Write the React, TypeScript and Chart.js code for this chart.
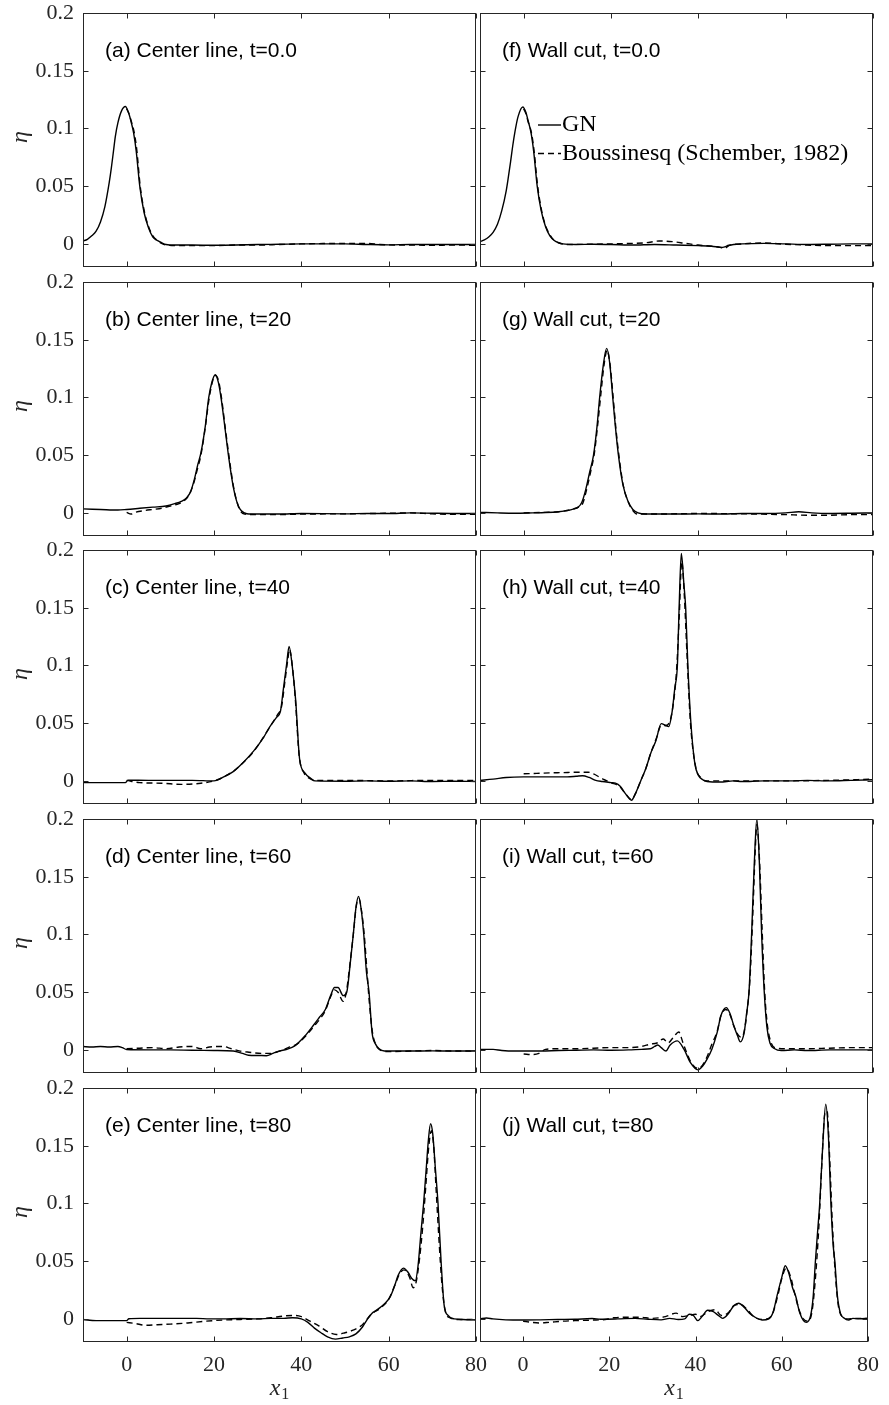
import React, { useEffect, useRef } from 'react';
import { Chart, registerables } from 'chart.js';
Chart.register(...registerables);

type Pt = [number, number];

const X_MIN = -10;
const X_MAX = 80;
const Y_MIN = -0.02;
const Y_MAX = 0.2;
const X_TICKS = [0, 20, 40, 60, 80];
const X_TICK_LABELS = ['0', '20', '40', '60', '80'];
const Y_TICKS = [0, 0.05, 0.1, 0.15, 0.2];
const Y_TICK_LABELS = ['0', '0.05', '0.1', '0.15', '0.2'];
const SERIES_NAMES = ['GN', 'Boussinesq (Schember, 1982)'];
const Y_LABEL = 'η';
const X_LABEL = 'x';
const X_LABEL_SUB = '1';

const PANEL_TITLES = [
  '(a) Center line, t=0.0',
  '(b) Center line, t=20',
  '(c) Center line, t=40',
  '(d) Center line, t=60',
  '(e) Center line, t=80',
  '(f) Wall cut, t=0.0',
  '(g) Wall cut, t=20',
  '(h) Wall cut, t=40',
  '(i) Wall cut, t=60',
  '(j) Wall cut, t=80',
];

// ---- (a) Center line, t=0.0
const a_GN: Pt[] = [[-10,0.0025],[-9,0.004],[-8,0.007],[-7,0.011],[-6,0.019],[-5,0.032],[-4,0.053],[-3.5,0.066],[-3,0.081],[-2.6,0.093],[-2,0.105],[-1.2,0.115],[-0.3,0.119],[0.4,0.114],[1,0.106],[1.6,0.096],[2.2,0.08],[3,0.05],[4,0.027],[5,0.014],[6,0.006],[7,0.003],[8,0.001],[9,-0.0005],[11,-0.001],[15,-0.001],[20,-0.0012],[25,-0.001],[30,-0.0005],[35,-0.0003],[40,0],[45,0],[50,0],[55,-0.0005],[60,-0.0008],[65,-0.0005],[70,-0.0005],[75,-0.0005],[80,-0.0005]];
const a_BQ: Pt[] = [[0,0.117],[0.5,0.113],[1,0.107],[1.7,0.097],[2.3,0.082],[3.1,0.05],[4,0.029],[5,0.015],[6,0.007],[7,0.003],[8,0.0005],[9,-0.001],[12,-0.0015],[16,-0.0015],[20,-0.0015],[25,-0.001],[30,-0.001],[35,-0.0005],[40,0],[45,0.0003],[50,0.0003],[55,0.0005],[58,-0.0005],[62,-0.001],[66,-0.001],[70,-0.0012],[75,-0.001],[80,-0.0012]];

// ---- (b) Center line, t=20
const b_GN: Pt[] = [[-10,0.0035],[-6,0.003],[-2,0.0025],[0,0.003],[3,0.004],[6,0.005],[9,0.006],[11,0.008],[12.5,0.01],[13.7,0.013],[14.6,0.018],[15.5,0.029],[16.3,0.042],[17,0.052],[18,0.075],[18.8,0.1],[19.5,0.113],[20.3,0.1197],[21,0.113],[21.6,0.1],[22.5,0.074],[23.3,0.05],[24.3,0.025],[25.2,0.01],[26,0.003],[27,0],[28,-0.001],[35,-0.001],[40,-0.0005],[50,-0.0008],[55,-0.0005],[60,-0.0005],[65,0],[70,-0.0003],[75,-0.0005],[80,-0.0005]];
const b_BQ: Pt[] = [[0,0.0005],[1,-0.001],[2,0.0005],[4,0.002],[6,0.003],[8,0.004],[10,0.006],[12,0.008],[13,0.01],[14.2,0.015],[15.3,0.025],[16.2,0.038],[17,0.05],[18,0.074],[18.8,0.097],[19.6,0.113],[20.3,0.119],[21,0.115],[21.7,0.1],[22.6,0.073],[23.4,0.05],[24.4,0.024],[25.3,0.009],[26,0.002],[27,-0.001],[30,-0.0015],[35,-0.0015],[40,-0.001],[50,-0.0008],[60,-0.0003],[65,0],[70,-0.0008],[75,-0.0012],[80,-0.0012]];

// ---- (c) Center line, t=40
const c_GN: Pt[] = [[-10,-0.0015],[-5,-0.0015],[-0.3,-0.0015],[0.3,0.0006],[5,0.0005],[10,0.0005],[15,0.0005],[20,0],[22,0.003],[24.4,0.008],[26.7,0.016],[29.1,0.026],[31.4,0.038],[32.8,0.047],[34.3,0.055],[35.2,0.06],[35.9,0.08],[36.6,0.1],[37.2,0.1165],[37.9,0.1],[38.7,0.07],[39.6,0.019],[40.8,0.007],[42.2,0.002],[43.1,0],[50,-0.0003],[55,0],[60,-0.0003],[65,0],[70,-0.0005],[75,-0.0003],[80,-0.0005]];
const c_BQ: Pt[] = [[0,0.0005],[3,-0.0015],[8,-0.002],[12.5,-0.003],[17,-0.002],[20,0],[22,0.003],[25,0.01],[27,0.017],[29,0.025],[31,0.036],[33,0.048],[34.5,0.057],[35.5,0.065],[36.2,0.085],[36.9,0.105],[37.3,0.114],[37.8,0.104],[38.6,0.072],[39.5,0.022],[40.6,0.007],[42,0.002],[43,0.0005],[50,0.0005],[60,0],[70,0.0005],[80,0.0005]];

// ---- (d) Center line, t=60
const d_GN: Pt[] = [[-10,0.003],[-8,0.0025],[-6,0.003],[-4,0.0025],[-2,0.003],[-1,0.002],[0,0.0003],[5,0],[10,0],[15,-0.0003],[20,-0.0005],[24.4,-0.001],[26.5,-0.003],[27.9,-0.0046],[30,-0.0048],[32,-0.005],[33.5,-0.003],[34.9,-0.001],[36.7,0.0006],[38.5,0.0035],[40.8,0.012],[42.9,0.022],[44.3,0.029],[45.5,0.035],[46.7,0.047],[47.6,0.054],[48.4,0.054],[49.6,0.047],[50.4,0.05],[51.2,0.075],[51.9,0.1],[52.5,0.123],[53.1,0.133],[53.7,0.122],[54.3,0.1],[54.9,0.068],[55.5,0.05],[56.2,0.015],[57,0.005],[57.8,0.001],[59,-0.001],[62,-0.001],[65,-0.001],[70,-0.0008],[75,-0.001],[80,-0.001]];
const d_BQ: Pt[] = [[0,0.001],[3,0.0015],[6,0.002],[9,0.001],[12,0.0025],[15,0.003],[17,0.001],[19,0.0025],[22,0.003],[24,0.001],[26,-0.001],[28,-0.002],[31,-0.003],[33,-0.003],[35,-0.001],[37,0.002],[39,0.005],[41,0.012],[43,0.021],[44.5,0.028],[45.5,0.034],[46.7,0.046],[47.6,0.052],[48.4,0.05],[49.6,0.042],[50.3,0.05],[51,0.07],[51.9,0.1],[52.6,0.125],[53.2,0.131],[53.8,0.12],[54.4,0.1],[55,0.07],[55.6,0.04],[56.3,0.015],[57,0.005],[58,0],[60,-0.0015],[65,-0.001],[70,-0.0005],[75,-0.001],[80,-0.001]];

// ---- (e) Center line, t=80
const e_GN: Pt[] = [[-10,-0.0005],[-7,-0.0015],[-3,-0.0015],[0,-0.0015],[0.5,0.0002],[3,0.0005],[8,0.0005],[12,0.0005],[16,0.0005],[19,0],[22,0],[26,0.0003],[30,0],[33,0.0005],[36,0.0005],[38,0.001],[40,0],[41.5,-0.003],[43,-0.008],[44.5,-0.012],[46,-0.0155],[47.8,-0.0175],[49.5,-0.0165],[51,-0.0155],[52.5,-0.013],[54,-0.007],[55,-0.001],[56.2,0.005],[57,0.007],[58.1,0.01],[59.3,0.014],[60.4,0.0195],[61.3,0.028],[62.2,0.038],[63.4,0.044],[64.5,0.04],[65.3,0.035],[66.1,0.033],[66.7,0.045],[67.4,0.075],[68,0.1],[68.6,0.13],[69.1,0.155],[69.6,0.169],[70.1,0.16],[70.7,0.13],[71.3,0.1],[72,0.05],[72.7,0.012],[73.6,0.003],[75,0],[77,-0.0005],[80,-0.001]];
const e_BQ: Pt[] = [[0,-0.003],[2,-0.004],[4.3,-0.0055],[7,-0.005],[10,-0.0045],[14,-0.0035],[18,-0.002],[22,-0.001],[26,-0.0005],[30,0],[33,0.001],[36,0.0025],[38,0.003],[40,0.002],[42,-0.002],[44,-0.006],[46,-0.011],[48,-0.0135],[50,-0.012],[52,-0.0095],[54,-0.005],[56,0.004],[58,0.009],[60,0.017],[61.5,0.03],[62.5,0.039],[63.5,0.0425],[64.8,0.036],[65.6,0.027],[66.3,0.032],[67,0.05],[67.8,0.08],[68.5,0.115],[69.2,0.15],[69.8,0.163],[70.3,0.15],[70.9,0.11],[71.5,0.07],[72.2,0.03],[72.9,0.008],[74,0.001],[76,-0.0005],[80,-0.0005]];

// ---- (f) Wall cut, t=0.0
const f_GN: Pt[] = [[-10,0.002],[-9,0.0035],[-8,0.006],[-7,0.01],[-6,0.017],[-5,0.029],[-4,0.046],[-3.5,0.058],[-3,0.071],[-2.5,0.085],[-2,0.097],[-1.3,0.11],[-0.2,0.1186],[0.5,0.114],[1,0.107],[1.7,0.096],[2.3,0.08],[3.1,0.05],[4,0.029],[5,0.015],[6,0.007],[7,0.003],[8,0.001],[9,0],[12,-0.0005],[16,-0.0003],[20,-0.0005],[25,-0.001],[30,-0.0005],[35,-0.001],[40,-0.0015],[43,-0.002],[45.5,-0.003],[47,-0.0012],[50,0],[55,0.0005],[60,0],[65,-0.0005],[70,-0.0003],[75,0],[80,0]];
const f_BQ: Pt[] = [[0,0.117],[0.5,0.113],[1,0.106],[1.8,0.096],[2.4,0.08],[3.2,0.05],[4.1,0.029],[5,0.016],[6,0.008],[7,0.003],[8,0.001],[10,-0.0005],[15,-0.0003],[20,0],[25,0.0005],[28,0.001],[31,0.0025],[34,0.002],[37,0.0005],[40,-0.001],[43,-0.002],[45,-0.003],[46,-0.004],[47,-0.0015],[50,0],[55,0.0008],[60,-0.0003],[65,-0.001],[70,-0.0015],[75,-0.0015],[80,-0.0015]];

// ---- (g) Wall cut, t=20
const g_GN: Pt[] = [[-10,0.0005],[-6,0],[-2,-0.0003],[2,0],[5,0.0003],[8,0.001],[10,0.002],[11.5,0.0035],[12.5,0.005],[13.3,0.009],[14.2,0.02],[15.1,0.035],[16,0.05],[16.8,0.075],[17.4,0.1],[18.2,0.127],[19,0.1425],[19.7,0.13],[20.4,0.1],[21,0.075],[21.7,0.05],[22.7,0.025],[23.9,0.01],[25,0.003],[26.2,0],[28,-0.001],[35,-0.001],[40,-0.0008],[45,-0.001],[50,-0.0005],[55,-0.0005],[60,0],[63,0.001],[66,0],[70,-0.0005],[75,-0.0003],[80,0]];
const g_BQ: Pt[] = [[0,0],[5,0.0005],[8,0.001],[11,0.003],[12.5,0.005],[13.5,0.008],[14.4,0.02],[15.3,0.035],[16.2,0.052],[17,0.078],[17.6,0.1],[18.4,0.128],[19.1,0.141],[19.8,0.128],[20.5,0.1],[21.1,0.074],[21.8,0.05],[22.8,0.024],[24,0.009],[25,0.002],[26,-0.001],[30,-0.001],[40,-0.0005],[50,-0.0008],[60,-0.0015],[65,-0.002],[70,-0.002],[75,-0.0015],[80,-0.0015]];

// ---- (h) Wall cut, t=40
const h_GN: Pt[] = [[-10,0.0005],[-7,0.0015],[-4,0.003],[0,0.0035],[5,0.0035],[10,0.0035],[12,0.004],[13.5,0.0045],[15,0.003],[16.5,0.0005],[18,-0.0005],[20,-0.0015],[21,-0.002],[22.1,-0.0046],[23.3,-0.011],[24.7,-0.0167],[25.6,-0.011],[26.8,0],[28,0.011],[29.1,0.024],[30.3,0.035],[31.5,0.0496],[32.5,0.048],[33.2,0.047],[34,0.06],[34.6,0.08],[35.2,0.1],[35.6,0.15],[36.1,0.197],[36.7,0.17],[37.1,0.15],[37.6,0.1],[38.3,0.05],[39.2,0.015],[40,0.005],[41,0.001],[42,-0.0005],[45,-0.001],[48,0],[50,-0.0005],[55,0],[60,0],[65,0.0005],[70,0],[75,0.0005],[80,0.001]];
const h_BQ: Pt[] = [[0,0.0062],[3,0.0065],[6,0.007],[9,0.0072],[12,0.0075],[14.8,0.0075],[16,0.006],[17.5,0.003],[18.5,0.001],[20,-0.0015],[22,-0.005],[23.3,-0.011],[24.7,-0.016],[25.6,-0.011],[26.8,0],[28,0.011],[29.1,0.024],[30.3,0.036],[31.5,0.048],[32.5,0.048],[33.3,0.05],[34.2,0.065],[35,0.095],[35.6,0.14],[36.2,0.19],[36.8,0.16],[37.4,0.11],[38.2,0.05],[39.4,0.012],[40.5,0.003],[42,0],[50,0],[60,0],[70,0.0005],[80,0.0015]];

// ---- (i) Wall cut, t=60
const i_GN: Pt[] = [[-10,0.0005],[-7,0.0005],[-5,-0.0005],[-2,-0.001],[0,-0.001],[4,-0.001],[8,-0.0005],[12,-0.0003],[16,0],[20,-0.0003],[24,0],[27,0.0005],[29,0.001],[30,0.003],[30.7,0.0043],[31.5,0.002],[32.6,-0.0009],[33.5,0.004],[35.2,0.0078],[36.7,0.0006],[38.2,-0.011],[39.9,-0.0173],[41,-0.014],[42,-0.008],[43.1,0.0006],[44.3,0.015],[45.2,0.03],[46.4,0.0366],[47.2,0.032],[48.2,0.02],[49,0.012],[49.6,0.007],[50.5,0.015],[51,0.03],[51.6,0.05],[52.2,0.1],[52.8,0.16],[53.4,0.2],[54,0.16],[54.5,0.1],[55.1,0.05],[55.7,0.02],[56.4,0.006],[57.5,0.001],[59,-0.0005],[62,0],[65,-0.0005],[70,0],[75,0],[80,0]];
const i_BQ: Pt[] = [[0,-0.0035],[2,-0.004],[3.5,-0.003],[5,0.0005],[8,0.001],[12,0.001],[16,0.0015],[20,0.002],[24,0.002],[27,0.003],[29,0.005],[30.5,0.006],[32,0.0095],[33,0.006],[34.5,0.012],[35.5,0.0155],[36.5,0.006],[37.5,-0.004],[38.5,-0.012],[39.9,-0.016],[41,-0.013],[42,-0.006],[43,0.004],[44.3,0.016],[45.2,0.03],[46.3,0.035],[47.2,0.031],[48.2,0.02],[49.3,0.012],[50,0.011],[50.6,0.018],[51.2,0.035],[51.8,0.06],[52.4,0.11],[53,0.17],[53.4,0.195],[54,0.165],[54.6,0.105],[55.2,0.05],[55.8,0.022],[56.5,0.008],[57.5,0.002],[60,0.001],[65,0.001],[70,0.0015],[75,0.002],[80,0.002]];

// ---- (j) Wall cut, t=80
const j_GN: Pt[] = [[-10,0],[-8.5,0.0008],[-7,0],[-4,-0.0008],[0,-0.001],[4,-0.0008],[8,-0.0005],[12,-0.0003],[16,0.0003],[18,-0.0003],[22,0],[26,0.0005],[29,-0.0003],[32,-0.0008],[34,0.0005],[36,-0.0005],[37.5,0],[38.5,0.004],[39.5,0.003],[40.5,-0.0015],[41.5,0.002],[42.8,0.0075],[44,0.0065],[45.3,0.003],[46.3,0.0005],[47.5,0.004],[48.8,0.011],[50,0.0135],[51.3,0.01],[52.5,0.005],[54,0.001],[55.5,-0.001],[57,0],[58,0.006],[58.9,0.02],[60,0.036],[60.8,0.046],[61.6,0.04],[62.5,0.027],[63.2,0.02],[64.2,0.005],[65.7,-0.003],[66.7,0.003],[67.3,0.02],[67.8,0.05],[68.3,0.075],[68.8,0.1],[69.5,0.15],[70.2,0.186],[70.8,0.16],[71.4,0.1],[71.9,0.065],[72.3,0.05],[72.9,0.02],[73.6,0.005],[74.5,0.0005],[75.5,-0.001],[76.5,0.0005],[78,0],[80,0.0005]];
const j_BQ: Pt[] = [[0,-0.002],[2,-0.003],[4,-0.0035],[6,-0.003],[9,-0.002],[12,-0.0015],[16,-0.001],[19,-0.0005],[21,0.001],[24,0.0015],[27,0.0015],[30,0.0005],[33,0.002],[35.5,0.005],[37,0.002],[38.5,0.003],[40,0.004],[41,0.002],[43,0.0065],[44.5,0.008],[46,0.003],[47.5,0.005],[49,0.012],[50.5,0.0125],[52,0.008],[53.5,0.002],[55.5,-0.0005],[57.5,0.002],[59,0.019],[60,0.035],[61,0.044],[62,0.037],[63,0.022],[64,0.008],[65,0],[66,-0.002],[67,0.006],[67.8,0.035],[68.6,0.08],[69.3,0.135],[70,0.178],[70.5,0.18],[71.1,0.14],[71.7,0.085],[72.4,0.04],[73.1,0.012],[74,0.002],[75.5,0],[78,0.0005],[80,0.0005]];

const PANEL_GN: Pt[][] = [a_GN, b_GN, c_GN, d_GN, e_GN, f_GN, g_GN, h_GN, i_GN, j_GN];
const PANEL_BQ: Pt[][] = [a_BQ, b_BQ, c_BQ, d_BQ, e_BQ, f_BQ, g_BQ, h_BQ, i_BQ, j_BQ];

// ---- layout / style
const ROW_TOPS = [13, 282, 550, 819, 1088];
const PANEL_H = 254;
const PAD_TOP = 30;
const PAD_BOTTOM = 30;
const X_AXIS_H = 62;
const Y_AXIS_W = 83;
const AXIS_COLOR = '#262626';
const TICK_LEN = 5;
const SERIF = "'Liberation Serif', 'Times New Roman', serif";
const SANS = "'Liberation Sans', Arial, sans-serif";

type PanelProps = { row: number; col: number; gn: Pt[]; bq: Pt[]; title: string; legend: boolean };

function Panel({ row, col, gn, bq, title, legend }: PanelProps) {
  const ref = useRef<HTMLCanvasElement>(null);
  const bottom = row === 4;
  const canvasLeft = col === 0 ? 0 : 460;
  const canvasW = col === 0 ? 500 : 429;
  const canvasTop = ROW_TOPS[row] - PAD_TOP;
  const canvasH = PAD_TOP + PANEL_H + (bottom ? X_AXIS_H : PAD_BOTTOM);

  useEffect(() => {
    const framePlugin = {
      id: 'frame',
      afterDraw(chart: any) {
        const { ctx, chartArea: a, scales } = chart;
        const xs = scales.x;
        const ys = scales.y;
        const L = Math.round(a.left) + 0.5;
        const R = Math.round(a.right) - 0.5;
        const T = Math.round(a.top) + 0.5;
        const B = Math.round(a.bottom) - 0.5;
        ctx.save();
        ctx.strokeStyle = AXIS_COLOR;
        ctx.lineWidth = 1;
        ctx.setLineDash([]);
        ctx.strokeRect(L, T, R - L, B - T);
        ctx.beginPath();
        X_TICKS.forEach((v) => {
          const p = Math.round(xs.getPixelForValue(v)) + 0.5;
          ctx.moveTo(p, B); ctx.lineTo(p, B - TICK_LEN);
          ctx.moveTo(p, T); ctx.lineTo(p, T + TICK_LEN);
        });
        Y_TICKS.forEach((v) => {
          const p = Math.round(ys.getPixelForValue(v)) + 0.5;
          ctx.moveTo(L, p); ctx.lineTo(L + TICK_LEN, p);
          ctx.moveTo(R, p); ctx.lineTo(R - TICK_LEN, p);
        });
        ctx.stroke();

        // panel title
        ctx.fillStyle = '#000';
        ctx.font = `21px ${SANS}`;
        ctx.textAlign = 'left';
        ctx.textBaseline = 'middle';
        ctx.fillText(title, a.left + 22, a.top + 38);

        // legend
        if (legend) {
          const lx0 = a.left + 58;
          const lx1 = a.left + 81;
          const y1 = a.top + 112;
          const y2 = a.top + 140.5;
          ctx.strokeStyle = '#000';
          ctx.lineWidth = 1.4;
          ctx.beginPath(); ctx.moveTo(lx0, y1); ctx.lineTo(lx1, y1); ctx.stroke();
          ctx.setLineDash([6, 4]);
          ctx.beginPath(); ctx.moveTo(lx0, y2); ctx.lineTo(lx1, y2); ctx.stroke();
          ctx.setLineDash([]);
          ctx.font = `24px ${SERIF}`;
          ctx.fillText(SERIES_NAMES[0], lx1 + 1, y1);
          ctx.fillText(SERIES_NAMES[1], lx1 + 1, y2);
        }

        // y label
        if (col === 0) {
          ctx.save();
          ctx.translate(21, (a.top + a.bottom) / 2 - 3);
          ctx.rotate(-Math.PI / 2);
          ctx.font = `italic 24px ${SERIF}`;
          ctx.fillStyle = AXIS_COLOR;
          ctx.textAlign = 'center';
          ctx.textBaseline = 'middle';
          ctx.fillText(Y_LABEL, 0, 0);
          ctx.restore();
        }

        // x label
        if (bottom) {
          const cx = (a.left + a.right) / 2;
          ctx.fillStyle = AXIS_COLOR;
          ctx.textBaseline = 'middle';
          ctx.font = `italic 24px ${SERIF}`;
          const wx = ctx.measureText(X_LABEL).width;
          ctx.font = `16px ${SERIF}`;
          const w1 = ctx.measureText(X_LABEL_SUB).width;
          const start = cx - (wx + w1 + 1) / 2;
          ctx.font = `italic 24px ${SERIF}`;
          ctx.textAlign = 'left';
          ctx.fillText(X_LABEL, start, a.bottom + 47);
          ctx.font = `16px ${SERIF}`;
          ctx.fillText(X_LABEL_SUB, start + wx + 1, a.bottom + 53);
        }
        ctx.restore();
      },
    };

    const lineStyle = {
      borderColor: '#000',
      borderWidth: 1.4,
      pointRadius: 0,
      fill: false,
      cubicInterpolationMode: 'monotone' as const,
    };

    const chart = new Chart(ref.current as HTMLCanvasElement, {
      type: 'line',
      data: {
        datasets: [
          { label: SERIES_NAMES[0], data: gn.map(([x, y]) => ({ x, y })), ...lineStyle },
          { label: SERIES_NAMES[1], data: bq.map(([x, y]) => ({ x, y })), ...lineStyle, borderDash: [6, 4] },
        ],
      },
      options: {
        animation: false,
        responsive: false,
        maintainAspectRatio: false,
        events: [],
        layout: {
          padding: {
            top: PAD_TOP,
            bottom: bottom ? 0 : PAD_BOTTOM,
            left: col === 0 ? 0 : 20,
            right: col === 0 ? 24 : 16,
          },
        },
        plugins: { legend: { display: false }, tooltip: { enabled: false } },
        scales: {
          x: {
            type: 'linear',
            min: X_MIN,
            max: X_MAX,
            display: bottom,
            grid: { display: false, drawTicks: false },
            border: { display: false },
            afterBuildTicks: (s: any) => { s.ticks = X_TICKS.map((v) => ({ value: v })); },
            afterFit: (s: any) => { s.height = bottom ? X_AXIS_H : 0; },
            ticks: {
              font: { family: SERIF, size: 22 },
              color: AXIS_COLOR,
              padding: 10,
              maxRotation: 0,
              autoSkip: false,
              callback: (v: any) => X_TICK_LABELS[X_TICKS.indexOf(Number(v))] ?? '',
            },
          },
          y: {
            type: 'linear',
            min: Y_MIN,
            max: Y_MAX,
            display: col === 0,
            grid: { display: false, drawTicks: false },
            border: { display: false },
            afterBuildTicks: (s: any) => { s.ticks = Y_TICKS.map((v) => ({ value: v })); },
            afterFit: (s: any) => { s.width = col === 0 ? Y_AXIS_W : 0; },
            ticks: {
              font: { family: SERIF, size: 22 },
              color: AXIS_COLOR,
              padding: 9,
              autoSkip: false,
              callback: (v: any) => Y_TICK_LABELS[Y_TICKS.indexOf(Number(v))] ?? '',
            },
          },
        },
      } as any,
      plugins: [framePlugin],
    });
    return () => chart.destroy();
  }, []);

  return (
    <canvas
      ref={ref}
      width={canvasW}
      height={canvasH}
      style={{ position: 'absolute', left: canvasLeft, top: canvasTop, width: canvasW, height: canvasH }}
    />
  );
}

export default function App() {
  const panels = PANEL_TITLES.map((t, k) => ({
    title: t,
    col: k < 5 ? 0 : 1,
    row: k % 5,
    gn: PANEL_GN[k],
    bq: PANEL_BQ[k],
    legend: k === 5,
  }));
  return (
    <div style={{ position: 'absolute', left: 0, top: 0, width: 889, height: 1405, background: '#fff', overflow: 'hidden' }}>
      {panels.map((p, k) => (
        <Panel key={k} row={p.row} col={p.col} gn={p.gn} bq={p.bq} title={p.title} legend={p.legend} />
      ))}
    </div>
  );
}
